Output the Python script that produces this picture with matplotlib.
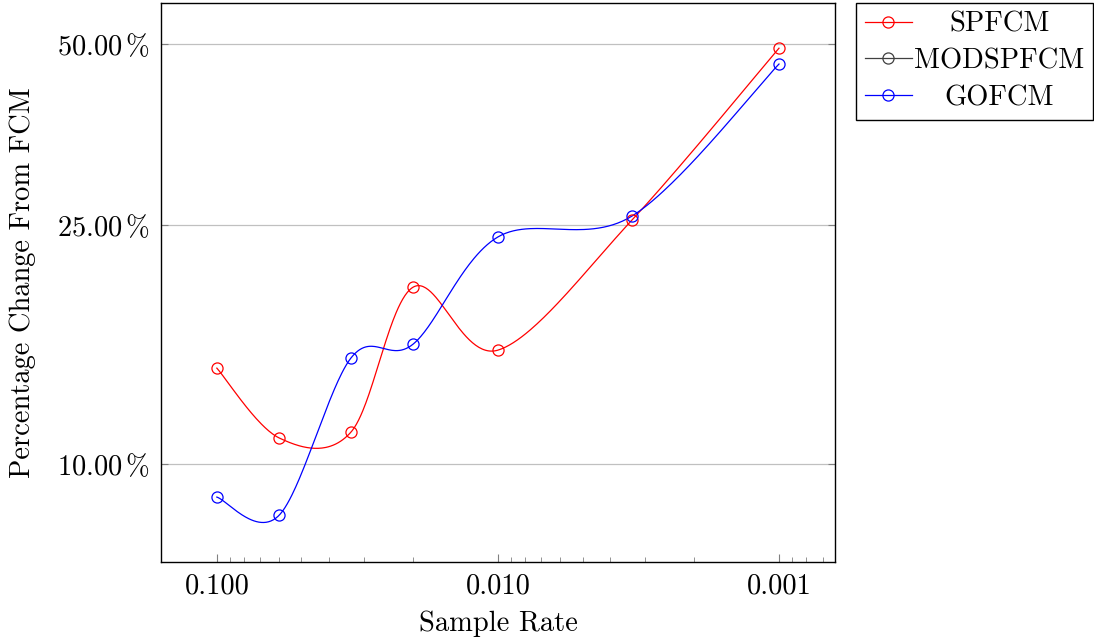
import numpy as np
import matplotlib
matplotlib.use('Agg')
import matplotlib.pyplot as plt
from matplotlib.lines import Line2D
from matplotlib.ticker import FixedLocator, NullLocator

# ---------------- data ----------------
sample_rate = [0.1, 0.06, 1/30, 0.02, 0.01, 1/300, 0.001]
spfcm = [14.44, 11.05, 11.30, 19.70, 15.47, 25.47, 49.2]
gofcm = [8.81, 8.22, 15.01, 15.84, 23.87, 25.86, 46.3]
series_names = ['SPFCM', 'MODSPFCM', 'GOFCM']
series_colors = ['#ff0000', '#404040', '#0000ff']
y_ticks = [10, 25, 50]
y_tick_labels = [r'$10.00\,\%$', r'$25.00\,\%$', r'$50.00\,\%$']
x_ticks = [0.1, 0.01, 0.001]
x_tick_labels = ['0.100', '0.010', '0.001']
x_label = 'Sample Rate'
y_label = 'Percentage Change From FCM'

plt.rcParams['font.family'] = ['cmr10', 'DejaVu Serif']
plt.rcParams['mathtext.fontset'] = 'cm'
plt.rcParams['axes.formatter.use_mathtext'] = True
FS = 20.5

W, H = 1094, 640
fig = plt.figure(figsize=(W / 100, H / 100), dpi=100)
ax = fig.add_axes([161 / W, 1 - 562 / H, (835 - 161) / W, (562 - 3) / H])


def smooth(xs, ys, tension=0.165, n=60):
    P = np.column_stack([np.log10(xs), np.log10(ys)])
    N = len(P)
    out = []
    t = np.linspace(0, 1, n)[:, None]
    for i in range(N - 1):
        p0, p3 = P[i], P[i + 1]
        prev = P[i - 1] if i > 0 else P[i]
        nxt = P[i + 2] if i + 2 < N else P[i + 1]
        c1 = p0 + tension * (p3 - prev)
        c2 = p3 - tension * (nxt - p0)
        seg = (1 - t) ** 3 * p0 + 3 * (1 - t) ** 2 * t * c1 + 3 * (1 - t) * t ** 2 * c2 + t ** 3 * p3
        out.append(seg if i == 0 else seg[1:])
    S = np.vstack(out)
    return 10 ** S[:, 0], 10 ** S[:, 1]


ax.set_xscale('log')
ax.set_yscale('log')

for ys, col in [(spfcm, series_colors[0]), (gofcm, series_colors[2])]:
    sx, sy = smooth(sample_rate, ys)
    ax.plot(sx, sy, color=col, lw=0.9, zorder=3)
    ax.plot(sample_rate, ys, ls='none', marker='o', ms=8, mfc='none',
            mec=col, mew=0.9, zorder=4)

ax.set_xlim(0.158, 0.000632)
ax.set_ylim(6.87, 58.5)

ax.xaxis.set_major_locator(FixedLocator(x_ticks))
ax.set_xticklabels(x_tick_labels, fontsize=FS)
minor = [m * 10.0 ** e for e in (-2, -3, -4) for m in range(2, 10)]
ax.xaxis.set_minor_locator(FixedLocator(minor))
ax.yaxis.set_major_locator(FixedLocator(y_ticks))
ax.set_yticklabels(y_tick_labels, fontsize=FS)
ax.yaxis.set_minor_locator(NullLocator())

ax.tick_params(axis='x', which='major', direction='in', length=6, width=0.8,
               color='#808080', pad=8, top=False, bottom=True)
ax.tick_params(axis='x', which='minor', direction='in', length=3.5, width=0.6,
               color='#808080', top=False, bottom=True)
ax.tick_params(axis='y', which='major', direction='in', length=5, width=0.8,
               color='#808080', pad=8, left=True, right=True)

ax.grid(True, axis='y', which='major', color='#c0c0c0', lw=0.9, zorder=0)
ax.set_axisbelow(True)
for s in ax.spines.values():
    s.set_linewidth(1.0)
    s.set_color('black')

ax.set_xlabel(x_label, fontsize=FS, labelpad=8)
ax.set_ylabel(y_label, fontsize=FS, labelpad=15)

handles = [Line2D([], [], color=c, lw=0.9, marker='o', ms=8, mfc='none', mec=c, mew=0.9)
           for c in series_colors]
leg = fig.legend(handles, series_names, loc='upper left',
                 bbox_to_anchor=(856 / W, 1 - 3 / H), borderaxespad=0,
                 frameon=True, fancybox=False, edgecolor='black', framealpha=1,
                 fontsize=FS, handlelength=1.65, handletextpad=0.1,
                 labelspacing=0.36, borderpad=0.3)
leg.get_frame().set_linewidth(1.0)

fig.canvas.draw()
r = fig.canvas.get_renderer()
texts = leg.get_texts()
widths = [t.get_window_extent(r).width for t in texts]
mw = max(widths)
for t, w in zip(texts, widths):
    t.set_position(((mw - w) / 2, 0))

fig.savefig('out.png', dpi=100)
